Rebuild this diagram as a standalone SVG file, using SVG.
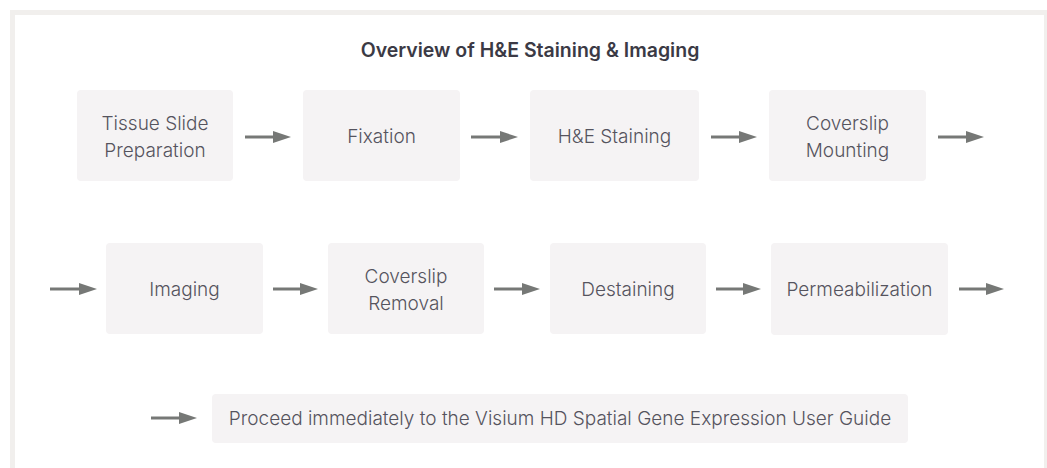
<svg xmlns="http://www.w3.org/2000/svg" width="1047" height="468" viewBox="0 0 1047 468">
<style>
.box{fill:#f5f3f4}
.t{font-family:Inter,"Liberation Sans",sans-serif;font-weight:300;font-size:19px;fill:#55545e;text-anchor:middle}
.title{font-family:Inter,"Liberation Sans",sans-serif;font-weight:600;font-size:19.5px;fill:#3b3a45;text-anchor:middle}
.c{stroke:#767876;stroke-width:3;fill:none;marker-end:url(#ah)}
.frame{fill:#f1efed}
</style>
<defs>
<marker id="ah" markerWidth="6" markerHeight="4" refX="0" refY="2" orient="auto" markerUnits="strokeWidth">
<path d="M0,0 L6,2 L0,4 Z" fill="#767876"/>
</marker>
</defs>
<rect width="1047" height="468" fill="#ffffff"/>
<g id="frame">
<rect class="frame" x="10" y="10" width="1037" height="5"/>
<rect class="frame" x="10" y="10" width="5" height="458"/>
<rect class="frame" x="1044" y="10" width="3" height="458"/>
</g>
<text class="title" x="530" y="57">Overview of H&amp;E Staining &amp; Imaging</text>
<g id="n1"><rect class="box" x="77" y="90" width="156" height="91" rx="4"/><text class="t" x="155" y="130">Tissue Slide</text><text class="t" x="155" y="157">Preparation</text></g>
<g id="n2"><rect class="box" x="303" y="90" width="157" height="91" rx="4"/><text class="t" x="381.5" y="143">Fixation</text></g>
<g id="n3"><rect class="box" x="530" y="90" width="169" height="91" rx="4"/><text class="t" x="614.5" y="143">H&amp;E Staining</text></g>
<g id="n4"><rect class="box" x="769" y="90" width="157" height="91" rx="4"/><text class="t" x="847.5" y="130">Coverslip</text><text class="t" x="847.5" y="157">Mounting</text></g>
<g id="n5"><rect class="box" x="106" y="243" width="157" height="91" rx="4"/><text class="t" x="184.5" y="296">Imaging</text></g>
<g id="n6"><rect class="box" x="328" y="243" width="156" height="91" rx="4"/><text class="t" x="406" y="283">Coverslip</text><text class="t" x="406" y="310">Removal</text></g>
<g id="n7"><rect class="box" x="550" y="243" width="156" height="91" rx="4"/><text class="t" x="628" y="296">Destaining</text></g>
<g id="n8"><rect class="box" x="771" y="243" width="177" height="92" rx="4"/><text class="t" x="859.5" y="296">Permeabilization</text></g>
<g id="n9"><rect class="box" x="212" y="394" width="696" height="49" rx="4"/><text class="t" x="560" y="425">Proceed immediately to the Visium HD Spatial Gene Expression User Guide</text></g>
<g id="connectors">
<line class="c" x1="245" y1="137" x2="273" y2="137"/>
<line class="c" x1="471" y1="137" x2="500" y2="137"/>
<line class="c" x1="711" y1="137" x2="739" y2="137"/>
<line class="c" x1="938" y1="137" x2="966" y2="137"/>
<line class="c" x1="50" y1="289" x2="79" y2="289"/>
<line class="c" x1="273" y1="289" x2="300" y2="289"/>
<line class="c" x1="494" y1="289" x2="522" y2="289"/>
<line class="c" x1="716" y1="289" x2="743" y2="289"/>
<line class="c" x1="959" y1="289" x2="986" y2="289"/>
<line class="c" x1="151" y1="418" x2="179" y2="418"/>
</g>
</svg>
